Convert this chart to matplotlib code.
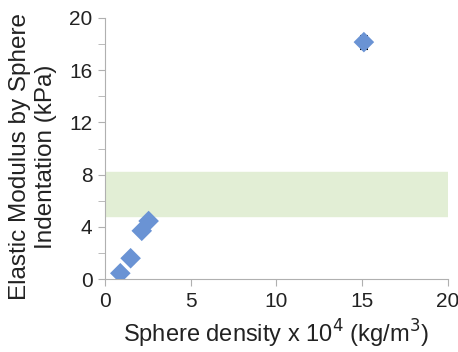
import matplotlib.pyplot as plt
from matplotlib.ticker import MultipleLocator

plt.rcParams['font.family'] = ['Liberation Sans', 'DejaVu Sans']

# data
density = [0.9, 1.5, 2.15, 2.55, 15.1]
modulus = [0.45, 1.6, 3.7, 4.45, 18.15]
mod_err = [0.2, 0.35, 0.25, 0.3, 0.5]
band_low, band_high = 4.8, 8.2

fig = plt.figure(figsize=(4.58, 3.52), dpi=100)
ax = fig.add_axes([0.229, 0.207, 0.749, 0.742])

ax.axhspan(band_low, band_high, color='#e2eed5', zorder=0)
ax.errorbar(density, modulus, yerr=mod_err, fmt='none', ecolor='black',
            elinewidth=1, capsize=3, capthick=1.5, zorder=2)
ax.scatter(density, modulus, marker='D', s=110, color='#6a93d4',
           edgecolors='none', zorder=3)

ax.set_xlim(0, 20)
ax.set_ylim(0, 20)
ax.xaxis.set_major_locator(MultipleLocator(5))
ax.yaxis.set_major_locator(MultipleLocator(4))
ax.yaxis.set_minor_locator(MultipleLocator(2))

for s in ['top', 'right']:
    ax.spines[s].set_visible(False)
for s in ['left', 'bottom']:
    ax.spines[s].set_color('#b0b0b0')

ax.tick_params(axis='both', which='both', colors='#b0b0b0', labelcolor='#222222',
               labelsize=15, length=5, pad=4)

ax.set_xlabel('Sphere density x 10$^4$ (kg/m$^3$)', fontsize=17, color='#222222', labelpad=5)
ax.set_ylabel('Elastic Modulus by Sphere\nIndentation (kPa)', fontsize=17.5,
              color='#222222', linespacing=1.25)
ax.yaxis.set_label_coords(-0.14, 0.47)

fig.savefig('out.png', dpi=100)
